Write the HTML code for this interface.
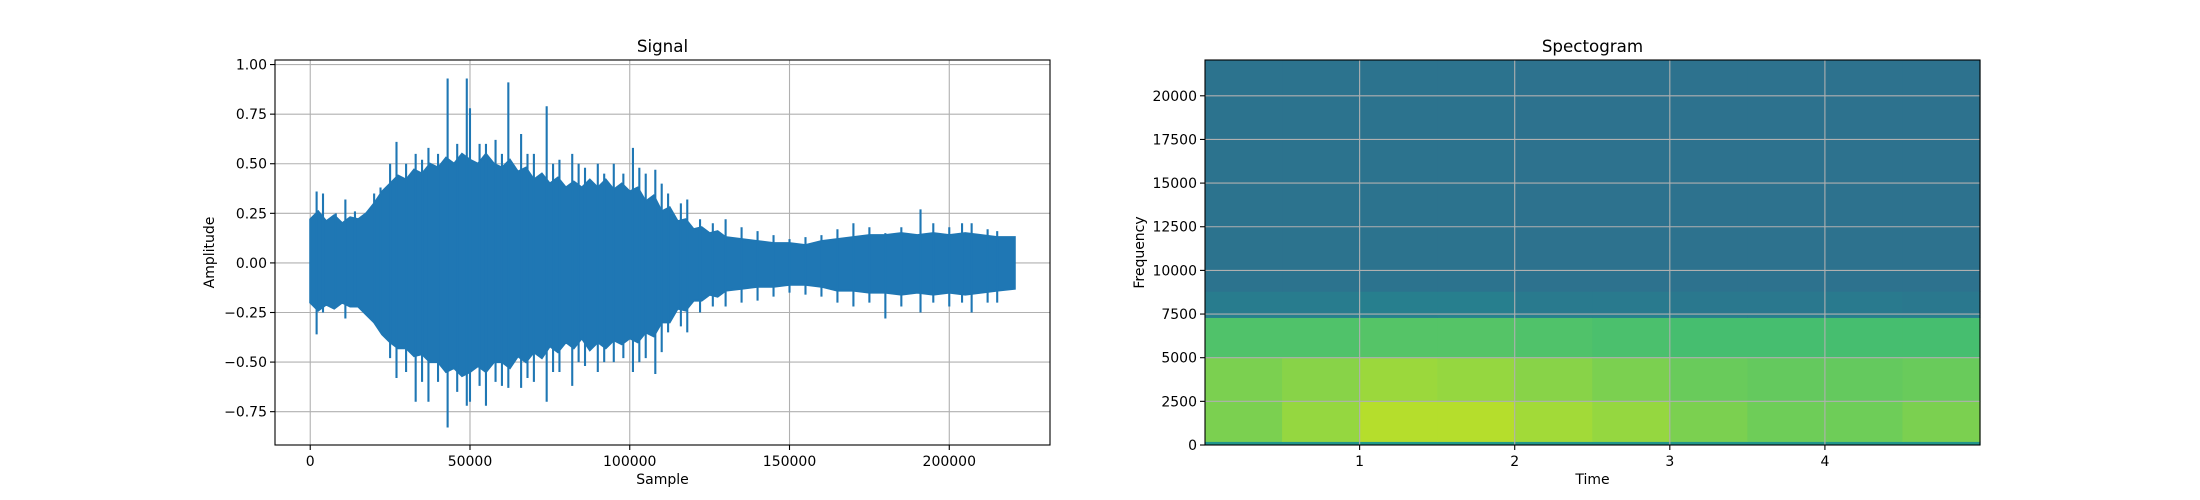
<!DOCTYPE html>
<html><head><meta charset="utf-8"><style>
html,body{margin:0;padding:0;background:#fff;}
svg{display:block;font-family:"DejaVu Sans","Liberation Sans",sans-serif;}
</style></head><body>
<svg id="fig" width="2200" height="500" viewBox="0 0 2200 500" xmlns="http://www.w3.org/2000/svg">
<rect width="2200" height="500" fill="#fff"/>
</svg>
<script>
// ---- Signal data ----
const envSamples = [0,2500,5000,7500,10000,12500,15000,17500,20000,22500,25000,27500,30000,32500,35000,37500,40000,42500,45000,47500,50000,52500,55000,57500,60000,62500,65000,67500,70000,72500,75000,77500,80000,82500,85000,87500,90000,92500,95000,97500,100000,102500,105000,107500,110000,112500,115000,117500,120000,122500,125000,127500,130000,135000,140000,145000,150000,155000,160000,165000,170000,175000,180000,185000,190000,195000,200000,205000,210000,215000,220500];
const envUpper = [0.22,0.26,0.21,0.24,0.2,0.23,0.22,0.25,0.3,0.36,0.4,0.44,0.42,0.47,0.45,0.5,0.48,0.53,0.5,0.55,0.52,0.5,0.55,0.5,0.48,0.52,0.46,0.48,0.42,0.45,0.4,0.43,0.38,0.41,0.38,0.42,0.38,0.42,0.37,0.4,0.36,0.38,0.31,0.34,0.26,0.28,0.21,0.22,0.17,0.18,0.15,0.16,0.13,0.12,0.11,0.1,0.1,0.09,0.11,0.12,0.13,0.14,0.14,0.15,0.14,0.15,0.14,0.15,0.14,0.13,0.13];
const envLower = [-0.2,-0.24,-0.21,-0.23,-0.2,-0.22,-0.22,-0.26,-0.3,-0.36,-0.4,-0.43,-0.43,-0.47,-0.46,-0.5,-0.5,-0.55,-0.53,-0.57,-0.55,-0.52,-0.55,-0.5,-0.5,-0.53,-0.47,-0.5,-0.45,-0.48,-0.42,-0.45,-0.4,-0.43,-0.38,-0.44,-0.4,-0.43,-0.39,-0.41,-0.38,-0.4,-0.35,-0.37,-0.3,-0.3,-0.23,-0.24,-0.19,-0.19,-0.16,-0.17,-0.14,-0.13,-0.12,-0.12,-0.11,-0.11,-0.12,-0.14,-0.14,-0.15,-0.15,-0.16,-0.15,-0.16,-0.15,-0.16,-0.15,-0.14,-0.13];
const spikeX = [2000,4000,8000,11000,14000,20000,22000,25000,27000,30000,33000,35000,37000,40000,43000,46000,49000,50000,53000,55000,58000,60000,62000,66000,68000,70000,74000,76000,78000,82000,84000,86000,90000,92000,95000,98000,101000,103000,105000,108000,110000,112000,116000,118000,122000,126000,130000,135000,140000,145000,150000,155000,160000,165000,170000,175000,180000,185000,191000,195000,200000,204000,207000,212000,215000];
const spikeTop = [0.36,0.35,0.25,0.32,0.26,0.35,0.38,0.5,0.61,0.5,0.55,0.52,0.58,0.55,0.93,0.6,0.93,0.78,0.6,0.6,0.62,0.55,0.91,0.65,0.55,0.55,0.79,0.5,0.52,0.55,0.5,0.48,0.5,0.45,0.5,0.45,0.58,0.48,0.45,0.47,0.4,0.35,0.3,0.32,0.22,0.2,0.22,0.18,0.16,0.14,0.12,0.13,0.14,0.17,0.2,0.18,0.15,0.18,0.27,0.2,0.18,0.2,0.2,0.17,0.16];
const spikeBot = [-0.36,-0.25,-0.22,-0.28,-0.22,-0.3,-0.33,-0.48,-0.58,-0.55,-0.7,-0.6,-0.7,-0.6,-0.83,-0.65,-0.72,-0.7,-0.62,-0.72,-0.6,-0.62,-0.63,-0.63,-0.58,-0.6,-0.7,-0.55,-0.55,-0.62,-0.5,-0.52,-0.55,-0.5,-0.5,-0.48,-0.55,-0.5,-0.48,-0.56,-0.45,-0.35,-0.32,-0.35,-0.25,-0.22,-0.22,-0.2,-0.19,-0.17,-0.15,-0.16,-0.17,-0.2,-0.22,-0.2,-0.28,-0.22,-0.25,-0.2,-0.22,-0.2,-0.25,-0.2,-0.2];
const sigXTicks = [0,50000,100000,150000,200000];
const sigYTicks = [-0.75,-0.5,-0.25,0,0.25,0.5,0.75,1.0];
const sigYLabels = ["\u22120.75","\u22120.50","\u22120.25","0.00","0.25","0.50","0.75","1.00"];
// ---- Spectrogram data ----
const specTimes = [0,0.5,1.0,1.5,2.0,2.5,3.0,3.5,4.0,4.5,5.0];
const specBandEdges = [0,200,2500,5000,7300,7550,8800,22050];
const specBand0 = [0.52,0.52,0.54,0.54,0.52,0.52,0.52,0.52,0.52,0.52];
const specBand1 = [0.8,0.84,0.89,0.89,0.86,0.84,0.8,0.78,0.78,0.8];
const specBand2 = [0.8,0.82,0.85,0.84,0.82,0.8,0.77,0.76,0.76,0.77];
const specBand3 = [0.72,0.72,0.73,0.73,0.72,0.71,0.7,0.7,0.7,0.7];
const specBand4 = [0.44,0.44,0.44,0.45,0.44,0.44,0.43,0.43,0.43,0.43];
const specBand5 = [0.42,0.42,0.43,0.43,0.41,0.41,0.4,0.4,0.41,0.4];
const specBand6 = [0.38,0.38,0.38,0.38,0.375,0.375,0.375,0.375,0.375,0.375];
const specXTicks = [1,2,3,4];
const specYTicks = [0,2500,5000,7500,10000,12500,15000,17500,20000];

const NS="http://www.w3.org/2000/svg";
const svg=document.getElementById('fig');
function el(tag,attrs,parent){const e=document.createElementNS(NS,tag);for(const k in attrs)e.setAttribute(k,attrs[k]);(parent||svg).appendChild(e);return e;}

// ---------- Left axes ----------
const L={x0:275,x1:1050,y0:60,y1:445,xmin:-11025,xmax:231525,ymin:-0.918,ymax:1.023};
const sx=v=>L.x0+(v-L.xmin)/(L.xmax-L.xmin)*(L.x1-L.x0);
const sy=v=>L.y1-(v-L.ymin)/(L.ymax-L.ymin)*(L.y1-L.y0);
const gL=el('g',{});


sigXTicks.forEach(t=>{const l=el('line',{x1:sx(t),x2:sx(t),y1:L.y0,y2:L.y1,stroke:'#b0b0b0','stroke-width':1.1},gL);});
sigYTicks.forEach(t=>{const l=el('line',{x1:L.x0,x2:L.x1,y1:sy(t),y2:sy(t),stroke:'#b0b0b0','stroke-width':1.1},gL);});
let pts=[];
envSamples.forEach((s,i)=>pts.push(sx(s)+','+sy(envUpper[i])));
for(let i=envSamples.length-1;i>=0;i--)pts.push(sx(envSamples[i])+','+sy(envLower[i]));
const env=el('polygon',{points:pts.join(' '),fill:'#1f77b4',stroke:'#1f77b4','stroke-width':2,'stroke-linejoin':'miter'},gL);


spikeX.forEach((s,i)=>{const l=el('line',{x1:sx(s),x2:sx(s),y1:sy(spikeTop[i]),y2:sy(spikeBot[i]),stroke:'#1f77b4','stroke-width':2.1},gL);

});
const fr=el('rect',{x:L.x0,y:L.y0,width:L.x1-L.x0,height:L.y1-L.y0,fill:'none',stroke:'#000','stroke-width':1.1},gL);

sigXTicks.forEach(t=>{el('line',{x1:sx(t),x2:sx(t),y1:L.y1,y2:L.y1+5,stroke:'#000','stroke-width':1.1},gL);
const tx=el('text',{x:sx(t),y:L.y1+21,'font-size':14,'text-anchor':'middle'},gL);tx.textContent=t;
});
sigYTicks.forEach((t,i)=>{el('line',{x1:L.x0-5,x2:L.x0,y1:sy(t),y2:sy(t),stroke:'#000','stroke-width':1.1},gL);
const tx=el('text',{x:L.x0-8,y:sy(t)+5,'font-size':14,'text-anchor':'end'},gL);tx.textContent=sigYLabels[i];
});
let t1=el('text',{x:(L.x0+L.x1)/2,y:52,'font-size':16.7,'text-anchor':'middle'},gL);t1.textContent='Signal';

let t2=el('text',{x:(L.x0+L.x1)/2,y:484,'font-size':14,'text-anchor':'middle'},gL);t2.textContent='Sample';

let t3=el('text',{x:0,y:0,'font-size':14,'text-anchor':'middle',transform:'translate(214,'+((L.y0+L.y1)/2)+') rotate(-90)'},gL);t3.textContent='Amplitude';


// ---------- Right axes ----------
const R={x0:1205,x1:1980,y0:60,y1:445,xmin:0.003,xmax:5.0,ymin:0,ymax:22050};
const rx=v=>R.x0+(v-R.xmin)/(R.xmax-R.xmin)*(R.x1-R.x0);
const ry=v=>R.y1-(v-R.ymin)/(R.ymax-R.ymin)*(R.y1-R.y0);
const VIR=[[68,1,84],[72,40,120],[62,74,137],[49,104,142],[38,130,142],[31,158,137],[53,183,121],[109,205,89],[180,222,44],[253,231,37]];
function viridis(v){v=Math.max(0,Math.min(1,v))*9;const i=Math.min(8,Math.floor(v)),f=v-i;const a=VIR[i],b=VIR[i+1];return 'rgb('+a.map((c,k)=>Math.round(c+(b[k]-c)*f)).join(',')+')';}
const gR=el('g',{});


const bands=[specBand0,specBand1,specBand2,specBand3,specBand4,specBand5,specBand6];
bands.forEach((band,b)=>{band.forEach((v,c)=>{
const xa=rx(Math.max(specTimes[c],R.xmin)),xb=rx(specTimes[c+1]);
const ya=ry(specBandEdges[b+1]),yb=ry(specBandEdges[b]);
const r=el('rect',{x:xa,y:ya,width:xb-xa+0.6,height:yb-ya+0.4,fill:viridis(v)},gR);

});});
specXTicks.forEach(t=>{const l=el('line',{x1:rx(t),x2:rx(t),y1:R.y0,y2:R.y1,stroke:'#b0b0b0','stroke-width':1.1},gR);});
specYTicks.forEach(t=>{const l=el('line',{x1:R.x0,x2:R.x1,y1:ry(t),y2:ry(t),stroke:'#b0b0b0','stroke-width':1.1},gR);});
const fr2=el('rect',{x:R.x0,y:R.y0,width:R.x1-R.x0,height:R.y1-R.y0,fill:'none',stroke:'#000','stroke-width':1.1},gR);

specXTicks.forEach(t=>{el('line',{x1:rx(t),x2:rx(t),y1:R.y1,y2:R.y1+5,stroke:'#000','stroke-width':1.1},gR);
const tx=el('text',{x:rx(t),y:R.y1+21,'font-size':14,'text-anchor':'middle'},gR);tx.textContent=t;
});
specYTicks.forEach(t=>{el('line',{x1:R.x0-5,x2:R.x0,y1:ry(t),y2:ry(t),stroke:'#000','stroke-width':1.1},gR);
const tx=el('text',{x:R.x0-8,y:ry(t)+5,'font-size':14,'text-anchor':'end'},gR);tx.textContent=t;
});
let r1=el('text',{x:(R.x0+R.x1)/2,y:52,'font-size':16.7,'text-anchor':'middle'},gR);r1.textContent='Spectogram';

let r2=el('text',{x:(R.x0+R.x1)/2,y:484,'font-size':14,'text-anchor':'middle'},gR);r2.textContent='Time';

let r3=el('text',{x:0,y:0,'font-size':14,'text-anchor':'middle',transform:'translate(1144,'+((R.y0+R.y1)/2)+') rotate(-90)'},gR);r3.textContent='Frequency';

</script>
</body></html>
